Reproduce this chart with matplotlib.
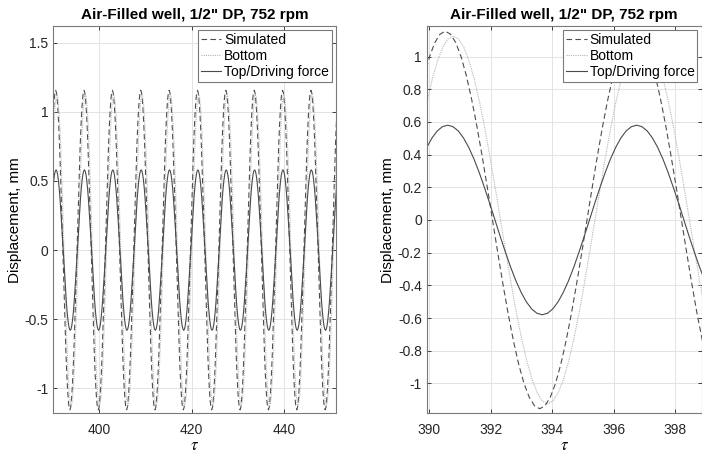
import numpy as np
import matplotlib
matplotlib.use("Agg")
import matplotlib.pyplot as plt

plt.rcParams['font.family'] = ['Liberation Sans', 'DejaVu Sans']
plt.rcParams['mathtext.fontset'] = 'stix'

PERIOD = 6.15
N_SAMPLES = 36
N_CYCLES = 12
FIRST_CYCLE = 384.4

# each series starts its cycle at its own peak
PEAK_SIMULATED = 390.52
PEAK_BOTTOM = 390.78
PEAK_DRIVING = 390.60

SIMULATED_CYCLE = [1.155, 1.137, 1.085, 1.000, 0.885, 0.742, 0.578, 0.395, 0.201, 0.000,
                   -0.201, -0.395, -0.578, -0.742, -0.885, -1.000, -1.085, -1.137, -1.155,
                   -1.137, -1.085, -1.000, -0.885, -0.742, -0.578, -0.395, -0.201, 0.000,
                   0.201, 0.395, 0.578, 0.742, 0.885, 1.000, 1.085, 1.137]
BOTTOM_CYCLE = [1.125, 1.108, 1.057, 0.974, 0.862, 0.723, 0.563, 0.385, 0.195, 0.000,
                -0.195, -0.385, -0.563, -0.723, -0.862, -0.974, -1.057, -1.108, -1.125,
                -1.108, -1.057, -0.974, -0.862, -0.723, -0.563, -0.385, -0.195, 0.000,
                0.195, 0.385, 0.563, 0.723, 0.862, 0.974, 1.057, 1.108]
DRIVING_CYCLE = [0.580, 0.571, 0.545, 0.502, 0.444, 0.373, 0.290, 0.198, 0.101, 0.000,
                 -0.101, -0.198, -0.290, -0.373, -0.444, -0.502, -0.545, -0.571, -0.580,
                 -0.571, -0.545, -0.502, -0.444, -0.373, -0.290, -0.198, -0.101, 0.000,
                 0.101, 0.198, 0.290, 0.373, 0.444, 0.502, 0.545, 0.571]

TITLE = 'Air-Filled well, 1/2" DP, 752 rpm'
LABELS = ['Simulated', 'Bottom', 'Top/Driving force']


def buildSeries(cycle, peak):
    # repeat the read cycle over the time window
    start = peak - PERIOD * round((peak - FIRST_CYCLE) / PERIOD)
    tau = []
    disp = []
    for k in range(N_CYCLES):
        for i in range(N_SAMPLES):
            tau.append(start + k * PERIOD + i * PERIOD / N_SAMPLES)
            disp.append(cycle[i])
    return np.array(tau), np.array(disp)


SERIES = [
    (buildSeries(SIMULATED_CYCLE, PEAK_SIMULATED), dict(color='#4d4d4d', linestyle=(0, (5, 3)), linewidth=0.8)),
    (buildSeries(BOTTOM_CYCLE, PEAK_BOTTOM), dict(color='#b5b5b5', linestyle=(0, (1, 1)), linewidth=0.8)),
    (buildSeries(DRIVING_CYCLE, PEAK_DRIVING), dict(color='#4a4a4a', linestyle='-', linewidth=0.8)),
]


def styleAxes(ax, xlim, ylim, xticks, yticks, yticklabels):
    for (tau, disp), style in SERIES:
        ax.plot(tau, disp, **style)
    ax.set_xlim(*xlim)
    ax.set_ylim(*ylim)
    ax.set_xticks(xticks)
    ax.set_yticks(yticks)
    ax.set_yticklabels(yticklabels)
    ax.grid(True, color='#e3e3e3', linewidth=0.7)
    ax.set_axisbelow(True)
    ax.tick_params(direction='in', top=True, right=True, length=3, width=0.6,
                   colors='#262626', labelsize=10, labelcolor='#262626')
    ax.tick_params(axis='x', pad=7)
    for sp in ax.spines.values():
        sp.set_color('#7a7a7a')
        sp.set_linewidth(0.8)
    ax.set_title(TITLE, fontsize=11, fontweight='bold', pad=5)
    ax.set_xlabel(r'$\tau$', fontsize=12, labelpad=1)
    ax.set_ylabel('Displacement, mm', fontsize=11, labelpad=2)
    leg = ax.legend(LABELS, loc='upper right', fontsize=10, handlelength=1.5,
                    handletextpad=0.2, borderpad=0.2, labelspacing=0.15,
                    fancybox=False, framealpha=1, borderaxespad=0.3)
    leg.get_frame().set_edgecolor('#7a7a7a')
    leg.get_frame().set_linewidth(0.8)


fig = plt.figure(figsize=(7.02, 4.58), dpi=100)
axLeft = fig.add_axes([53.3 / 702, 1 - 413.3 / 458, (336 - 53.3) / 702, (413.3 - 26) / 458])
axRight = fig.add_axes([426.7 / 702, 1 - 413.3 / 458, (701.5 - 426.7) / 702, (413.3 - 26) / 458])

styleAxes(axLeft, (390, 451.3), (-1.18, 1.62), [400, 420, 440],
          [-1, -0.5, 0, 0.5, 1, 1.5], ['-1', '-0.5', '0', '0.5', '1', '1.5'])
rightY = [-1, -0.8, -0.6, -0.4, -0.2, 0, 0.2, 0.4, 0.6, 0.8, 1]
styleAxes(axRight, (389.915, 398.86), (-1.183, 1.187), [390, 392, 394, 396, 398],
          rightY, ['{:g}'.format(v) for v in rightY])

fig.savefig('out.png', dpi=100)
